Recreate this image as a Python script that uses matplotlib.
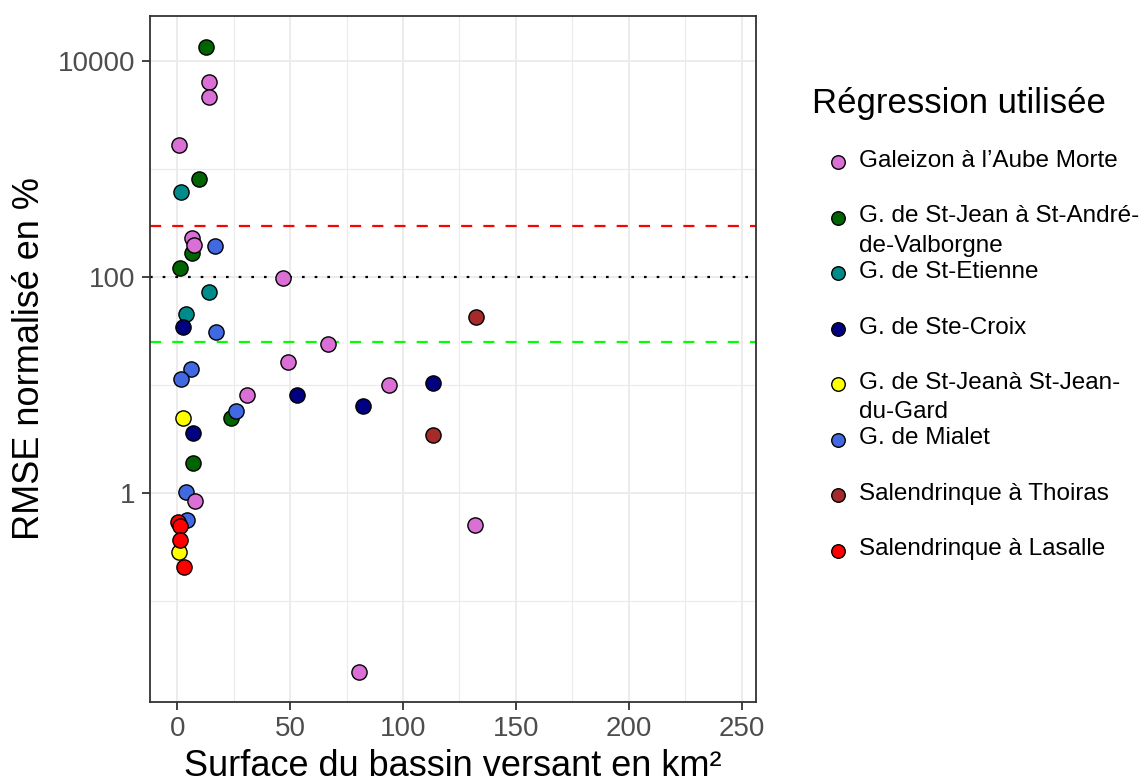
import matplotlib
matplotlib.use("Agg")
import matplotlib.pyplot as plt
import numpy as np

plt.rcParams["font.family"] = ["Liberation Sans", "DejaVu Sans"]

# données (surface en km², RMSE normalisé en %)
groupes = [
    "Galeizon à l’Aube Morte",
    "G. de St-Jean à St-André-\nde-Valborgne",
    "G. de St-Etienne",
    "G. de Ste-Croix",
    "G. de St-Jeanà St-Jean-\ndu-Gard",
    "G. de Mialet",
    "Salendrinque à Thoiras",
    "Salendrinque à Lasalle",
]
couleurs = ["orchid", "darkgreen", "darkcyan", "navy", "yellow", "royalblue", "brown", "red"]

galeizon_x = [14.0, 14.0, 0.75, 6.6, 7.5, 47.0, 66.6, 49.0, 31.0, 93.9, 8.0, 131.9, 80.4]
galeizon_y = [6440, 4675, 1690, 230, 198, 98, 24, 16.3, 8.1, 10.1, 0.84, 0.51, 0.0223]
stjean_andre_x = [12.6, 9.6, 6.5, 1.2, 23.7, 7.1]
stjean_andre_y = [13500, 822, 167, 121, 5.0, 1.9]
stetienne_x = [1.5, 14.0, 3.9]
stetienne_y = [615, 73.5, 45.7]
stecroix_x = [2.4, 7.1, 53.2, 82.4, 113.1]
stecroix_y = [34.8, 3.6, 8.2, 6.5, 10.5]
stjean_gard_x = [2.4, 0.75]
stjean_gard_y = [5.0, 0.285]
mialet_x = [16.7, 17.1, 5.9, 1.8, 26.0, 3.7, 4.4]
mialet_y = [195, 31.3, 14.2, 11.4, 5.8, 1.03, 0.57]
thoiras_x = [132.3, 113.1]
thoiras_y = [43, 3.5]
lasalle_x = [0.2, 1.3, 1.3, 2.8]
lasalle_y = [0.54, 0.50, 0.366, 0.207]

series_x = [galeizon_x, stjean_andre_x, stetienne_x, stecroix_x,
            stjean_gard_x, mialet_x, thoiras_x, lasalle_x]
series_y = [galeizon_y, stjean_andre_y, stetienne_y, stecroix_y,
            stjean_gard_y, mialet_y, thoiras_y, lasalle_y]

seuils = [300, 100, 25]

# ordre de tracé (superpositions)
ordre_trace = [1, 2, 3, 4, 5, 6, 0, 7]

fig = plt.figure(figsize=(11.47, 7.83), dpi=100)
ax = fig.add_axes([0.1310, 0.1038, 0.5284, 0.8761])

for n, i in enumerate(ordre_trace):
    ax.scatter(series_x[i], series_y[i], s=120, c=couleurs[i],
               edgecolors="black", linewidths=1.0, zorder=3 + n * 0.01)

ax.axhline(seuils[0], color="red", lw=1.6, dashes=(5, 5), zorder=2)
ax.axhline(seuils[1], color="black", lw=1.6, dashes=(1.2, 4.5), zorder=2)
ax.axhline(seuils[2], color="#00FF00", lw=1.6, dashes=(5, 5), zorder=2)

ax.set_yscale("log")
ax.set_xlim(-11.96, 256.5)
ax.set_ylim(10 ** -1.930, 10 ** 4.422)

ax.set_xticks([0, 50, 100, 150, 200, 250])
ax.set_xticks([25, 75, 125, 175, 225], minor=True)
ax.set_yticks([1, 100, 10000])
ax.set_yticklabels(["1", "100", "10000"])
ax.set_yticks([0.1, 10, 1000], minor=True)
ax.yaxis.set_minor_formatter(matplotlib.ticker.NullFormatter())

ax.grid(which="major", color="#EBEBEB", lw=1.3, zorder=0)
ax.grid(which="minor", color="#EBEBEB", lw=0.8, zorder=0)
ax.set_axisbelow(True)

ax.tick_params(which="major", length=6, width=1.3, color="#333333",
               labelsize=20, labelcolor="#4D4D4D", pad=4.5)
ax.tick_params(which="minor", length=0)
for s in ax.spines.values():
    s.set_color("#333333")
    s.set_linewidth(1.3)

ax.set_xlabel("Surface du bassin versant en km²", fontsize=26, labelpad=5)
ax.set_ylabel("RMSE normalisé en %", fontsize=26, labelpad=8)

# légende dessinée à la main
lax = fig.add_axes([0, 0, 1, 1])
lax.set_xlim(0, 1147)
lax.set_ylim(783, 0)
lax.axis("off")
lax.text(812, 104, "Régression utilisée", fontsize=25, va="center", ha="left")
for k, (nom, col) in enumerate(zip(groupes, couleurs)):
    yk = 162 + k * 55.5
    lax.scatter([837.5], [yk], s=95, c=col, edgecolors="black", linewidths=1.0)
    for j, ligne in enumerate(nom.split("\n")):
        lax.text(859, yk - 1 + j * 29.3, ligne, fontsize=17.5, va="center", ha="left")

fig.savefig("out.png", dpi=100)
